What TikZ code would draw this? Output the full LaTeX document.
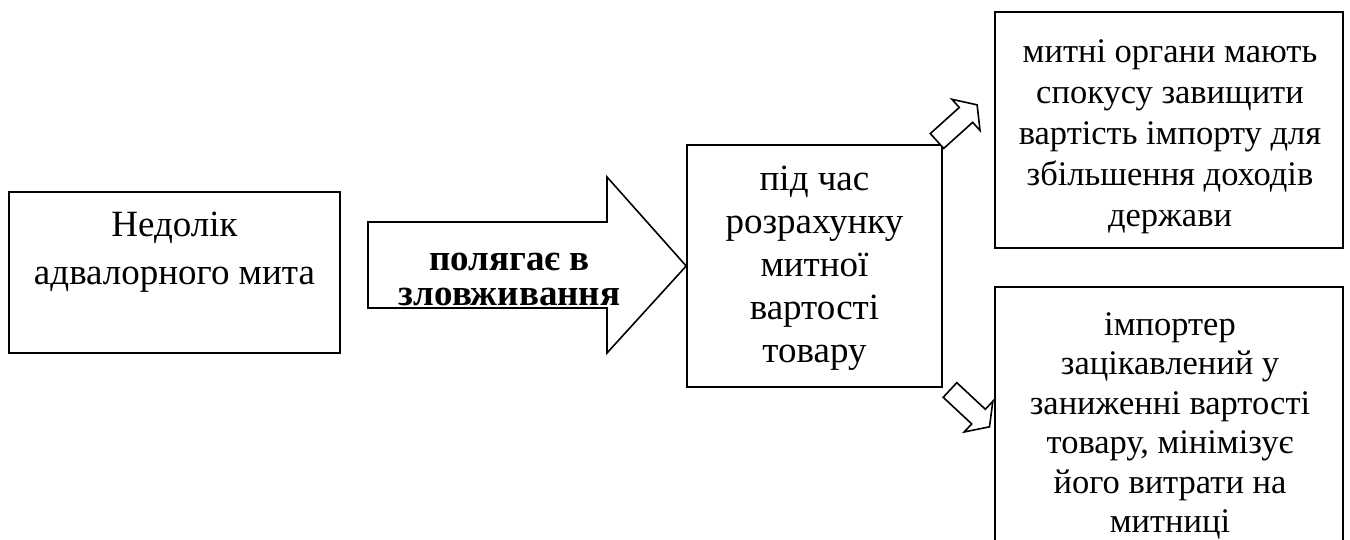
\documentclass[tikz,border=0pt]{standalone}
\usepackage{fontspec}
\setmainfont{Liberation Serif}
\begin{document}
\begin{tikzpicture}[x=1pt,y=-1pt,
  box/.style={draw, line width=1.6pt, inner sep=0pt},
  txt/.style={align=center, inner sep=0pt, anchor=north},
  bigtxt/.style={txt, font=\fontsize{37}{43}\selectfont},
  smalltxt/.style={txt, font=\fontsize{34.5}{41}\selectfont},
  blockarrow/.style={draw, line width=1.6pt, line join=miter, fill=white}]
\clip (0,0) rectangle (1350,540);
\fill[white] (0,0) rectangle (1350,540);
% boxes
\node[box, minimum width=331, minimum height=161] (lbox) at (174.5,272.5) {};
\node[box, minimum width=255, minimum height=242] (mbox) at (814.5,266) {};
\node[box, minimum width=348, minimum height=236] (tbox) at (1169,130) {};
\node[box, minimum width=348, minimum height=313] (bbox) at (1169,443.5) {};
% texts
\node[bigtxt, font=\fontsize{37}{48}\selectfont] (ltext) at (174.5,202.4) {\strut Недолік\\адвалорного мита};
\node[bigtxt] (mtext) at (814.5,160) {\strut під час\\розрахунку\\митної\\вартості\\товару};
\node[smalltxt] (ttext) at (1170,33.5) {\strut митні органи мають\\спокусу завищити\\вартість імпорту для\\збільшення доходів\\держави};
\node[smalltxt, font=\fontsize{34.5}{39.5}\selectfont] (btext) at (1170,307.5) {\strut імпортер\\зацікавлений у\\заниженні вартості\\товару, мінімізує\\його витрати на\\митниці};
% big arrow
\draw[blockarrow] (368,222) -- (607,222) -- (607,177) -- (mbox.west) -- (607,353) -- (607,308) -- (368,308) -- cycle;
\node[txt, font=\bfseries\fontsize{37}{35}\selectfont] (atext) at (509.5,245.5) {\strut полягає в\\зловживання};
% small arrows
\draw[blockarrow, shift={(937,141)}, rotate=42] (0,-10) -- (39,-10) -- (39,-21) -- (54,0) -- (39,21) -- (39,10) -- (0,10) -- cycle;
\draw[blockarrow, shift={(950,390)}, rotate=-43] (0,-10) -- (39,-10) -- (39,-21) -- (54,0) -- (39,21) -- (39,10) -- (0,10) -- cycle;
\end{tikzpicture}
\end{document}
